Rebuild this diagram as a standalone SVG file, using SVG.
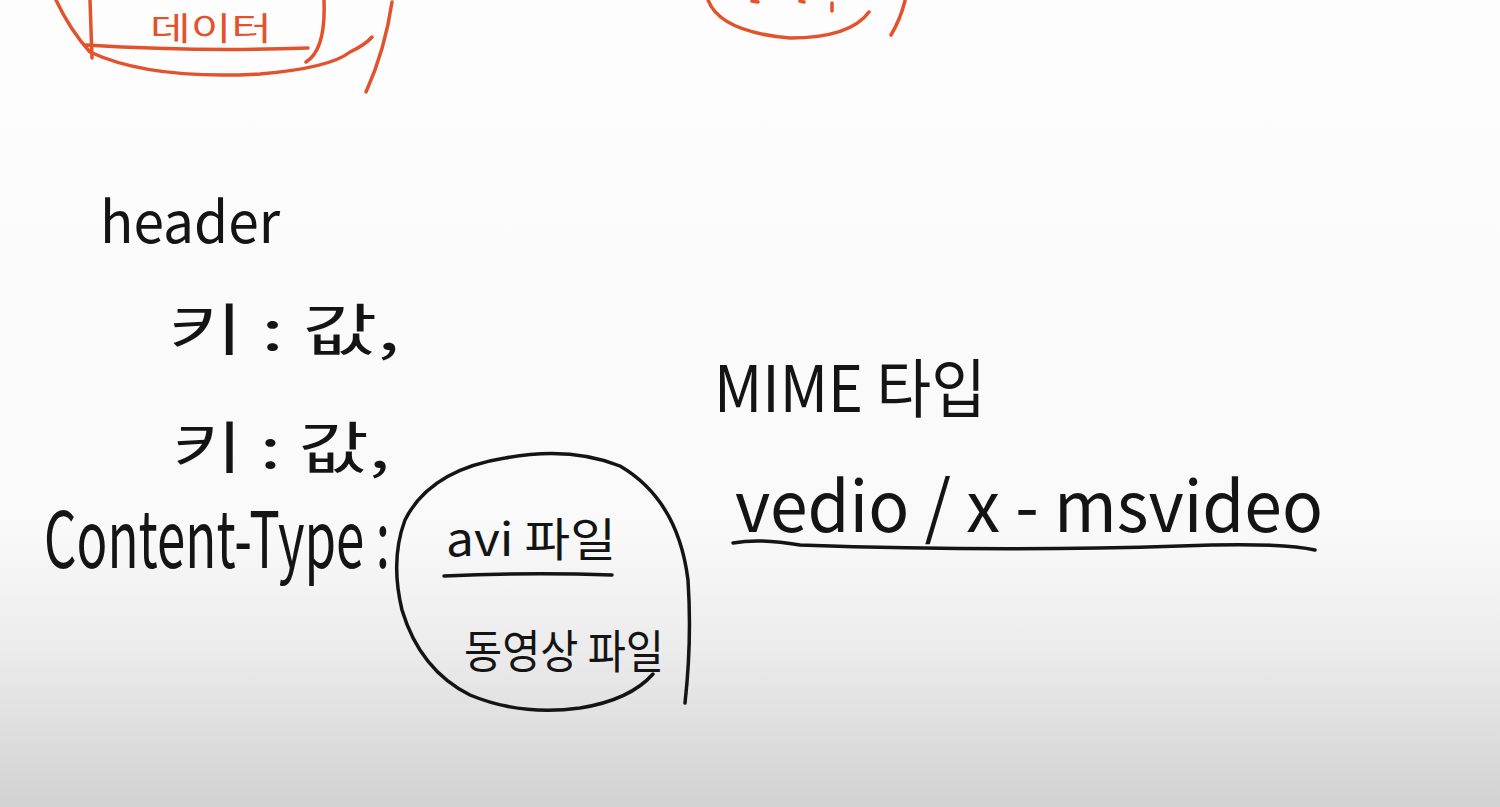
<svg xmlns="http://www.w3.org/2000/svg" width="1500" height="807" viewBox="0 0 1500 807">
<defs>
<linearGradient id="bg" x1="0" y1="0" x2="0" y2="1">
<stop offset="0" stop-color="#fdfdfd"/>
<stop offset="0.66" stop-color="#f9f9f9"/>
<stop offset="0.8" stop-color="#ececec"/>
<stop offset="1" stop-color="#d2d2d2"/>
</linearGradient>
<style>
.ink{fill:none;stroke:#141414;stroke-width:3.5;stroke-linecap:round;stroke-linejoin:round}
.red{fill:none;stroke:#e2522c;stroke-width:3.5;stroke-linecap:round;stroke-linejoin:round}
.t{font-family:"Noto Sans CJK KR","Noto Sans",sans-serif;fill:#141414;font-weight:400}
.tr{font-family:"Noto Sans CJK KR","Noto Sans",sans-serif;fill:#e2522c;font-weight:400}
</style>
</defs>
<rect width="1500" height="807" fill="url(#bg)"/>
<g id="top-left-sketch">
<path class="red" d="M90 0 L92 58"/>
<path class="red" d="M86 45 Q200 52 308 48"/>
<path class="red" d="M324 0 Q326 50 306 62"/>
<path class="red" d="M56 0 Q70 30 90 52 Q150 80 260 74 Q330 68 350 52 Q365 45 372 37"/>
<path class="red" d="M392 2 Q385 50 366 92"/>
<text class="tr" x="150" y="40" font-size="32" textLength="122" lengthAdjust="spacingAndGlyphs">데이터</text>
</g>
<g id="top-middle-sketch">
<path class="red" d="M708 0 Q720 32 790 38 Q850 38 869 12"/>
<path class="red" d="M752 1 L758 2 M800 1 L804 2 M832 3 L832 11"/>
<path class="red" d="M905 1 Q900 20 891 35"/>
</g>
<g id="header">
<text class="t" x="100" y="243" font-size="58" textLength="180" lengthAdjust="spacingAndGlyphs">header</text>
</g>
<g id="kv1">
<text class="t" x="168" y="350" font-size="56" textLength="232" lengthAdjust="spacingAndGlyphs">키 : 값,</text>
</g>
<g id="kv2">
<text class="t" x="172" y="468" font-size="56" textLength="218" lengthAdjust="spacingAndGlyphs">키 : 값,</text>
</g>
<g id="content-type">
<text class="t" transform="translate(44,568) scale(1,1.4)" x="0" y="0" font-size="56" textLength="346" lengthAdjust="spacingAndGlyphs">Content-Type :</text>
</g>
<g id="value-bubble">
<path class="ink" d="M685 703 Q692 640 688 580 Q678 500 620 466 Q570 446 505 458 Q430 470 405 520 Q390 560 402 610 Q420 670 470 695 Q520 716 580 708 Q630 700 653 674"/>
<text class="t" x="446" y="556" font-size="46" textLength="170" lengthAdjust="spacingAndGlyphs">avi 파일</text>
<path class="ink" d="M444 576 Q530 572 612 575"/>
<text class="t" x="464" y="668" font-size="46" textLength="200" lengthAdjust="spacingAndGlyphs">동영상 파일</text>
</g>
<g id="mime">
<text class="t" x="714" y="412" font-size="64" textLength="272" lengthAdjust="spacingAndGlyphs">MIME 타입</text>
</g>
<g id="mime-value">
<text class="t" x="735" y="532" font-size="70" textLength="588" lengthAdjust="spacingAndGlyphs">vedio / x - msvideo</text>
<path class="ink" d="M733 543 Q760 538 800 545 Q1000 552 1180 546 Q1280 542 1315 550"/>
</g>
</svg>
